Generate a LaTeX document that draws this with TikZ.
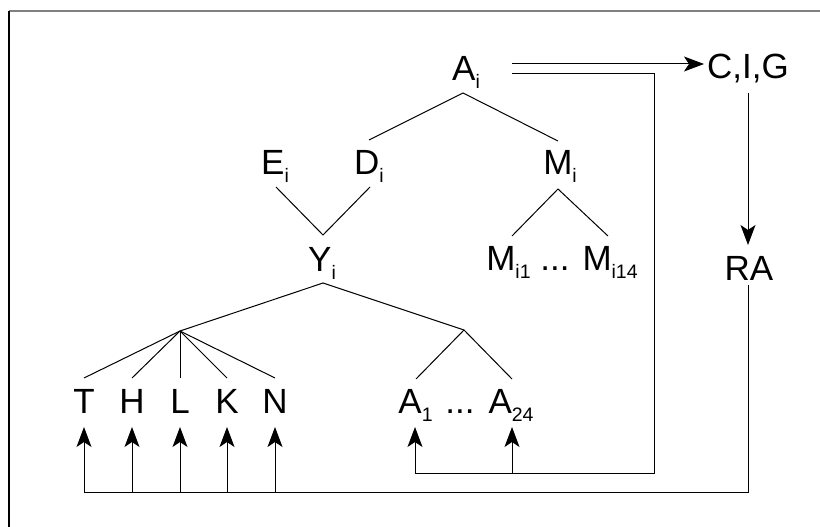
\documentclass[tikz,border=0pt]{standalone}
\usepackage{fontspec}
\setmainfont{Liberation Sans}
\usetikzlibrary{arrows.meta}
% lowered, smaller index set after a letter
\newcommand\lsub[1]{\raisebox{-8pt}{\fontsize{19.5}{19.5}\selectfont #1}}

\begin{document}
\begin{tikzpicture}[x=1pt,y=-1pt,
  lbl/.style={anchor=base, inner sep=0pt, font=\fontsize{35}{35}\selectfont},
  edge/.style={line width=1pt},
  arr/.style={line width=1pt, -{Stealth[length=20pt,width=15pt,inset=5pt]}}]
\useasboundingbox (0,0) rectangle (820,527);

% frame
\coordinate (fr-tl) at (9,11);
\coordinate (fr-tr) at (820,11);
\coordinate (fr-bl) at (9,527);
\draw[gray, line width=1.6pt] (fr-tl) -- (fr-tr);
\draw[black, line width=1.6pt] (fr-tl) -- (fr-bl);

% labels
\node[lbl] (Ai)  at (466,81)  {A\lsub{i}};
\node[lbl] (CIG) at (748,79)  {C,I,G};
\node[lbl] (Ei)  at (275,174) {E\lsub{i}};
\node[lbl] (Di)  at (369,174) {D\lsub{i}};
\node[lbl] (Mi)  at (560,174) {M\lsub{i}};
\node[lbl] (Yi)  at (322,271) {Y\lsub{i}};
\node[lbl] (Mij) at (562,270) {M\lsub{i1} ... M\lsub{i14}};
\node[lbl] (RA)  at (749,280) {RA};
\node[lbl] (T)   at (84,413)  {T};
\node[lbl] (H)   at (132,413) {H};
\node[lbl] (L)   at (180,413) {L};
\node[lbl] (K)   at (227,413) {K};
\node[lbl] (N)   at (275,413) {N};
\node[lbl] (Aj)  at (466,413) {A\lsub{1}\hspace{3pt} ...\hspace{1pt} A\lsub{24}};

% tree junctions
\coordinate (ai-b) at (463,93);
\coordinate (di-t) at (369,140);
\coordinate (mi-t) at (558,141);
\coordinate (ei-b) at (276,187);
\coordinate (di-b) at (370,187);
\coordinate (yi-t) at (323,235);
\coordinate (yi-b) at (323,283);
\coordinate (fan)  at (180,331);
\coordinate (aj-t) at (464,330);
\coordinate (a1-t) at (416,379);
\coordinate (a24-t) at (512,379);
\coordinate (mi-b) at (558,189);
\coordinate (mi1-t) at (512,236);
\coordinate (mi14-t) at (608,236);

\draw[edge] (di-t) -- (ai-b) -- (mi-t);
\draw[edge] (ei-b) -- (yi-t) -- (di-b);
\draw[edge] (fan) -- (yi-b) -- (aj-t);
\draw[edge] (a1-t) -- (aj-t) -- (a24-t);
\draw[edge] (mi1-t) -- (mi-b) -- (mi14-t);
\foreach \x/\n in {84/T,132/H,180/L,227/K,275/N}{
  \coordinate (\n-t) at (\x,378);
  \draw[edge] (fan) -- (\n-t);
}

% feedback from A_i
\coordinate (ai-r1) at (512,64);
\coordinate (ai-r2) at (512,74);
\coordinate (cig-in) at (704,64);
\coordinate (fb-tr) at (654,74);
\coordinate (fb-br) at (654,473);
\coordinate (fb-a1) at (415,473);
\coordinate (fb-a24) at (512,473);
\coordinate (a1-in) at (415,427);
\coordinate (a24-in) at (512,427);
\draw[arr] (ai-r1) -- (cig-in);
\draw[edge] (ai-r2) -- (fb-tr) -- (fb-br) -- (fb-a1);
\draw[arr] (fb-a1) -- (a1-in);
\draw[arr] (fb-a24) -- (a24-in);

% C,I,G to RA and back to the inputs
\coordinate (cig-b) at (748,93);
\coordinate (ra-t) at (748,245);
\coordinate (ra-b) at (748,285);
\coordinate (rb-r) at (748,492);
\coordinate (rb-l) at (84,492);
\draw[arr] (cig-b) -- (ra-t);
\draw[edge] (ra-b) -- (rb-r) -- (rb-l);
\foreach \x/\n in {84/T,132/H,180/L,227/K,275/N}{
  \coordinate (\n-b) at (\x,492);
  \coordinate (\n-in) at (\x,427);
  \draw[arr] (\n-b) -- (\n-in);
}
\end{tikzpicture}
\end{document}
